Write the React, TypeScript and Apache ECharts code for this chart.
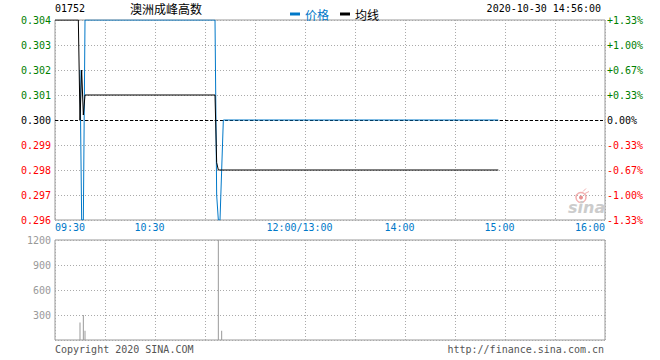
import React, { useEffect, useRef } from "react";
import * as echarts from "echarts";

const STOCK_CODE = "01752";
const STOCK_NAME = "澳洲成峰高数";
const TIMESTAMP = "2020-10-30 14:56:00";
const PREV_CLOSE = 0.3;

// minute index from 09:30 (lunch break removed), 0..330
const TICK_MINUTES = [0, 60, 150, 210, 270, 330];
const TICK_LABELS = ["09:30", "10:30", "12:00/13:00", "14:00", "15:00", "16:00"];

const PRICE_MINUTES = [15, 16, 17, 18, 96, 97, 98, 99, 100, 101, 266];
const PRICE_VALUES = [0.302, 0.296, 0.296, 0.304, 0.304, 0.297, 0.296, 0.296, 0.298, 0.3, 0.3];

const AVG_MINUTES = [0, 14, 15, 16, 17, 18, 96, 97, 98, 266];
const AVG_VALUES = [0.304, 0.304, 0.3, 0.302, 0.3002, 0.301, 0.301, 0.2983, 0.298, 0.298];

const VOL_MINUTES = [15, 17, 18, 98, 100];
const VOL_VALUES = [210, 300, 110, 2000, 110];

const BLUE = "#0078c8";
const GREEN = "#008000";
const RED = "#ff0000";
const MONO = "DejaVu Sans Mono";
const CJK = "Noto Sans CJK SC";

export default function App() {
  const ref = useRef<HTMLDivElement>(null);

  useEffect(() => {
    if (!ref.current) return;
    const chart = echarts.init(ref.current, undefined, { renderer: "svg" });

    const pricePairs = PRICE_MINUTES.map((m, i) => [m, PRICE_VALUES[i]]);
    const avgPairs = AVG_MINUTES.map((m, i) => [m, AVG_VALUES[i]]);
    const volPairs = VOL_MINUTES.map((m, i) => [m, VOL_VALUES[i]]);

    const dotted = { color: "#aaa", type: [1, 2] as any, width: 1 };

    const xLabelFormatter = (v: number) => {
      const i = TICK_MINUTES.indexOf(Math.round(v));
      if (i < 0) return "";
      if (i === 0) return `{l|${TICK_LABELS[i]}}`;
      if (i === TICK_MINUTES.length - 1) return `{r|${TICK_LABELS[i]}}`;
      return `{c|${TICK_LABELS[i]}}`;
    };
    const richBase = { fontFamily: MONO, fontSize: 10, color: BLUE };

    const priceColor = (v: any) => {
      const n = Number(v);
      if (n > PREV_CLOSE + 1e-9) return GREEN;
      if (n < PREV_CLOSE - 1e-9) return RED;
      return "#000";
    };

    const pctFormatter = (v: any) => {
      const p = ((Number(v) - PREV_CLOSE) / PREV_CLOSE) * 100;
      if (Math.abs(p) < 1e-6) return "0.00%";
      return (p > 0 ? "+" : "-") + Math.abs(p).toFixed(2) + "%";
    };

    const option: any = {
      animation: false,
      backgroundColor: "#fff",
      legend: {
        left: 285,
        top: 3,
        icon: "rect",
        itemWidth: 10,
        itemHeight: 3,
        itemGap: 11,
        selectedMode: false,
        textStyle: { fontFamily: CJK, fontSize: 12 },
        data: [
          { name: "价格", textStyle: { color: BLUE } },
          { name: "均线", textStyle: { color: "#000" } },
        ],
      },
      grid: [
        { left: 55, width: 550, top: 20, height: 200, show: true, borderColor: "#999", borderWidth: 1, backgroundColor: "transparent" },
        { left: 55, width: 550, top: 240, height: 100, show: true, borderColor: "#999", borderWidth: 1, backgroundColor: "transparent" },
      ],
      xAxis: [
        {
          type: "value",
          gridIndex: 0,
          min: 0,
          max: 330,
          interval: 30,
          axisLine: { show: false },
          axisTick: { show: false },
          splitLine: { show: true, lineStyle: dotted },
          axisLabel: {
            show: true,
            margin: 2,
            formatter: xLabelFormatter,
            rich: {
              l: { ...richBase, padding: [0, 0, 0, 30] },
              r: { ...richBase, padding: [0, 30, 0, 0] },
              c: { ...richBase, padding: [0, 11, 0, 0] },
            },
          },
        },
        {
          type: "value",
          gridIndex: 1,
          min: 0,
          max: 330,
          interval: 30,
          axisLine: { show: false },
          axisTick: { show: false },
          splitLine: { show: true, lineStyle: dotted },
          axisLabel: { show: false },
        },
      ],
      yAxis: [
        {
          type: "value",
          gridIndex: 0,
          min: 0.296,
          max: 0.304,
          interval: 0.001,
          axisLine: { show: false },
          axisTick: { show: false },
          splitLine: { show: true, lineStyle: dotted },
          axisLabel: {
            margin: 4,
            fontFamily: MONO,
            fontSize: 10,
            padding: [0, 0, 7, 0],
            color: priceColor,
            formatter: (v: any) => Number(v).toFixed(3),
          },
        },
        {
          type: "value",
          gridIndex: 0,
          position: "right",
          min: 0.296,
          max: 0.304,
          interval: 0.001,
          axisLine: { show: false },
          axisTick: { show: false },
          splitLine: { show: false },
          axisLabel: {
            margin: 2,
            fontFamily: MONO,
            fontSize: 10,
            padding: [0, 0, 7, 0],
            color: priceColor,
            formatter: pctFormatter,
          },
        },
        {
          type: "value",
          gridIndex: 1,
          min: 0,
          max: 1200,
          interval: 300,
          axisLine: { show: false },
          axisTick: { show: false },
          splitLine: { show: true, lineStyle: dotted },
          axisLabel: {
            margin: 4,
            fontFamily: MONO,
            fontSize: 10,
            padding: [0, 0, 7, 0],
            color: "#999",
            formatter: (v: any) => (Number(v) === 0 ? "" : String(v)),
          },
        },
      ],
      series: [
        {
          name: "价格",
          type: "line",
          xAxisIndex: 0,
          yAxisIndex: 0,
          data: pricePairs,
          showSymbol: false,
          symbol: "none",
          z: 3,
          lineStyle: { color: BLUE, width: 1 },
          itemStyle: { color: BLUE },
          markLine: {
            silent: true,
            symbol: "none",
            z: 1,
            label: { show: false },
            lineStyle: { color: "#000", type: [3, 2], width: 1 },
            data: [{ yAxis: PREV_CLOSE }],
          },
        },
        {
          name: "均线",
          type: "line",
          xAxisIndex: 0,
          yAxisIndex: 0,
          data: avgPairs,
          showSymbol: false,
          symbol: "none",
          z: 4,
          lineStyle: { color: "#000", width: 1 },
          itemStyle: { color: "#000" },
        },
        {
          name: "成交量",
          type: "bar",
          xAxisIndex: 1,
          yAxisIndex: 2,
          data: volPairs,
          barWidth: 1,
          itemStyle: { color: "#999" },
        },
      ],
      graphic: [
        { type: "text", left: 55, top: 3, style: { text: STOCK_CODE, font: `10px "${MONO}"`, fill: "#000" } },
        { type: "text", left: 130, top: 2, style: { text: STOCK_NAME, font: `12px "${CJK}"`, fill: "#000" } },
        { type: "text", right: 59, top: 3, style: { text: TIMESTAMP, font: `10px "${MONO}"`, fill: "#000" } },
        { type: "text", left: 55, top: 344, style: { text: "Copyright 2020 SINA.COM", font: `10px "${MONO}"`, fill: "#555" } },
        { type: "text", right: 56, top: 344, style: { text: "http://finance.sina.com.cn", font: `10px "${MONO}"`, fill: "#555" } },
        {
          type: "group",
          left: 568,
          top: 186,
          children: [
            { type: "circle", shape: { cx: 14, cy: 9, r: 5 }, style: { fill: "none", stroke: "#f2b0b0", lineWidth: 1.5 } },
            { type: "circle", shape: { cx: 14, cy: 9, r: 2 }, style: { fill: "#e89090" } },
            { type: "line", shape: { x1: 16, y1: 3, x2: 19, y2: 0 }, style: { stroke: "#f2b0b0", lineWidth: 1 } },
            { type: "line", shape: { x1: 18, y1: 5, x2: 22, y2: 3 }, style: { stroke: "#f2b0b0", lineWidth: 1 } },
            { type: "text", x: 1, y: 11, style: { text: "sina", font: `italic bold 16px "DejaVu Sans"`, fill: "#cccccc" } },
          ],
        },
      ],
    };

    chart.setOption(option);
    return () => chart.dispose();
  }, []);

  return (
    <div
      ref={ref}
      style={{ position: "fixed", left: 0, top: 0, width: 660, height: 360, background: "#fff" }}
    />
  );
}
